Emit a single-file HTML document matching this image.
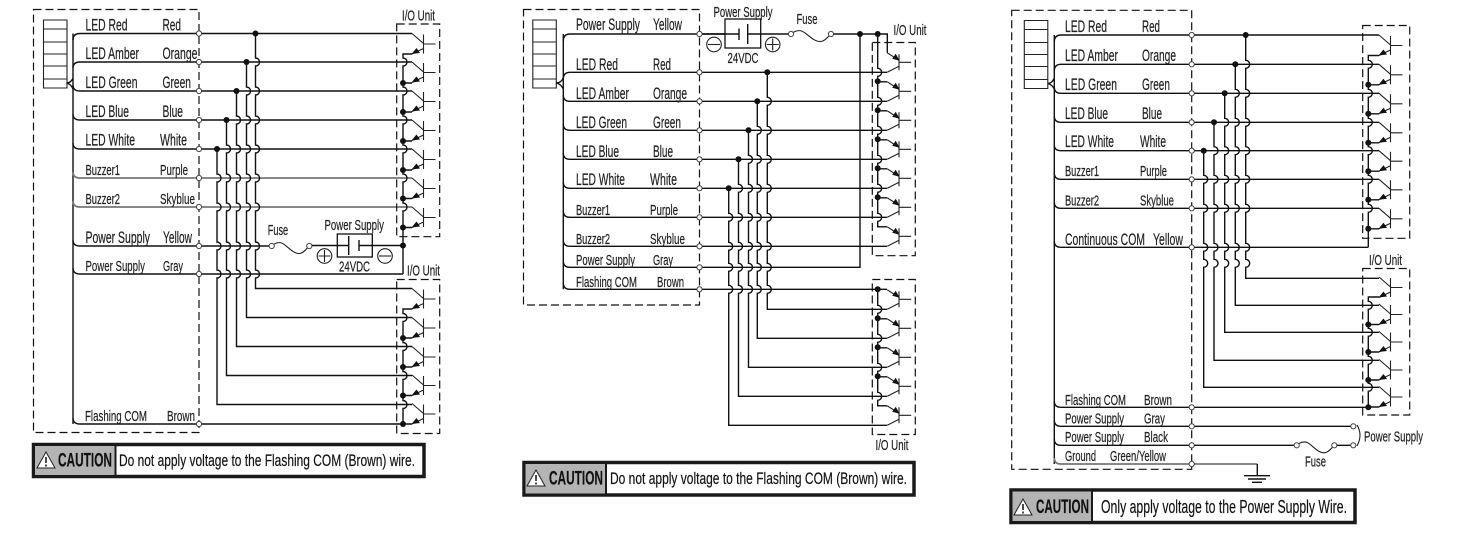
<!DOCTYPE html>
<html><head><meta charset="utf-8"><title>Wiring diagrams</title>
<style>
html,body{margin:0;padding:0;background:#fff;width:1474px;height:542px;overflow:hidden}
svg{display:block}
text{font-family:"Liberation Sans",sans-serif;fill:#222;font-size:16.5px;stroke:#222;stroke-width:.2}
.s{font-size:15px}
.c{font-size:19px;font-weight:bold;fill:#111}
.m{font-size:16.5px;fill:#111}
.w{fill:none;stroke:#111;stroke-width:1.4}
.g{fill:none;stroke:#777;stroke-width:1.8}
.t{fill:none;stroke:#222;stroke-width:1.1}
.d{fill:none;stroke:#111;stroke-width:1.2;stroke-dasharray:8 4}
.dot{fill:#111}
.term{fill:#fff;stroke:#444;stroke-width:1}
</style></head><body>
<svg width="1474" height="542" viewBox="0 0 1474 542" xmlns="http://www.w3.org/2000/svg">
<defs>
<g id="ta"><path class="t" d="M9 0L20.5 10M20.5 1V20M20.5 10.5H32.5M20.5 15L9 20.5"/><path class="dot" d="M8.500 20.500L13.500 14.500L17 19.500Z"/></g>
<g id="tb"><path class="t" d="M9.5 0L21.3 -6M21.3 -2V-18M21.3 -10H33.5M21.3 -12L9.5 -19.5"/><path class="dot" d="M22 -11.500L14.500 -13.500L18 -18.500Z"/></g>
<g id="fuse"><path class="t" d="M0 0C3 -3 7 -4 10 -3C15 -1 21 8 28 7.5C32 7 34.500 3 37.600 0"/></g>
<g id="stack"><path d="M0 0H23.500V68H0ZM0 9H23.500M0 22H23.500M0 34H23.500M0 46H23.500M0 59H23.500" fill="#fff" stroke="#222" stroke-width="1.100"/></g>
<g id="plus"><circle class="t" r="7.300" fill="none"/><path class="t" d="M-6 0H6M0 -6V6"/></g>
<g id="minus"><circle class="t" r="7.300" fill="none"/><path class="t" d="M-6 0H6"/></g>
<g id="warn"><path d="M0 16L9 0L18 16Z" fill="#fff" stroke="#222" stroke-width="1"/><path d="M9 5V11M9 12.500V14.500" stroke="#111" stroke-width="1.500"/></g>
</defs>

<!-- DIAGRAM 1 -->
<rect class="d" x="33.500" y="9.500" width="165.500" height="423"/>
<use href="#stack" x="43.500" y="20"/>
<path class="w" d="M66.500 83Q71 83 73 78M73 33.500V424"/>
<path class="w" d="M66.500 83Q71 84 73 89"/>
<path class="w" d="M73 40Q73 33.500 80 33.500H412M73 68Q73 62 80 62H412M73 85Q73 91 80 91H412M73 114Q73 120 80 120H412M73 143Q73 149 80 149H412M73 240Q73 246 80 246H272M73 268Q73 274 80 274H403M73 418Q73 424 80 424H403"/>
<path class="g" d="M73 172Q73 178 80 178H412M73 201Q73 207 80 207H412"/>
<path class="w" d="M255.500 33.500V58a4 4 0 0 1 0 8V87a4 4 0 0 1 0 8V116a4 4 0 0 1 0 8V145a4 4 0 0 1 0 8V174a4 4 0 0 1 0 8V203a4 4 0 0 1 0 8V242a4 4 0 0 1 0 8V270a4 4 0 0 1 0 8V288.500H412"/>
<path class="w" d="M246.500 62V87a4 4 0 0 1 0 8V116a4 4 0 0 1 0 8V145a4 4 0 0 1 0 8V174a4 4 0 0 1 0 8V203a4 4 0 0 1 0 8V242a4 4 0 0 1 0 8V270a4 4 0 0 1 0 8V317.500H412"/>
<path class="w" d="M236.500 91V116a4 4 0 0 1 0 8V145a4 4 0 0 1 0 8V174a4 4 0 0 1 0 8V203a4 4 0 0 1 0 8V242a4 4 0 0 1 0 8V270a4 4 0 0 1 0 8V346.500H412"/>
<path class="w" d="M226.500 120V145a4 4 0 0 1 0 8V174a4 4 0 0 1 0 8V203a4 4 0 0 1 0 8V242a4 4 0 0 1 0 8V270a4 4 0 0 1 0 8V375.500H412"/>
<path class="w" d="M217 149V174a4 4 0 0 1 0 8V203a4 4 0 0 1 0 8V242a4 4 0 0 1 0 8V270a4 4 0 0 1 0 8V404.500H412"/>
<path class="w" d="M412 54H403V58a4 4 0 0 1 0 8V87a4 4 0 0 1 0 8V116a4 4 0 0 1 0 8V145a4 4 0 0 1 0 8V174a4 4 0 0 1 0 8V203a4 4 0 0 1 0 8V274M412 83H403M412 112H403M412 141H403M412 170H403M412 198.500H403M412 227.500H403"/>
<path class="w" d="M412 309H403V313.500a4 4 0 0 1 0 8V342.500a4 4 0 0 1 0 8V371.500a4 4 0 0 1 0 8V400.500a4 4 0 0 1 0 8V424M412 338H403M412 367H403M412 395.500H403M412 424H403"/>
<rect class="d" x="396.700" y="24" width="43" height="212.700"/>
<rect class="d" x="396.700" y="279.500" width="43" height="154"/>
<use href="#ta" x="403" y="33.500"/><use href="#ta" x="403" y="62"/><use href="#ta" x="403" y="91"/><use href="#ta" x="403" y="120"/><use href="#ta" x="403" y="149"/><use href="#ta" x="403" y="178"/><use href="#ta" x="403" y="207"/>
<use href="#ta" x="403" y="288.500"/><use href="#ta" x="403" y="317.500"/><use href="#ta" x="403" y="346.500"/><use href="#ta" x="403" y="375"/><use href="#ta" x="403" y="403.500"/>
<use href="#fuse" x="271.700" y="246"/><g class="term"><circle cx="271.700" cy="246" r="2.600"/><circle cx="309.300" cy="246" r="2.600"/></g>
<rect x="337.300" y="234" width="35" height="23" fill="#fff" stroke="#111" stroke-width="1.300"/>
<path class="w" d="M312 245.500H348.700M348.700 236V255M359 240V251M359 245.500H403"/>
<use href="#plus" x="324.500" y="256"/><use href="#minus" x="385" y="256"/>
<g class="dot"><circle cx="255.500" cy="33.500" r="3"/><circle cx="246.500" cy="62" r="3"/><circle cx="236.500" cy="91" r="3"/><circle cx="226.500" cy="120" r="3"/><circle cx="217" cy="149" r="3"/><circle cx="403" cy="83" r="3"/><circle cx="403" cy="112" r="3"/><circle cx="403" cy="141" r="3"/><circle cx="403" cy="170" r="3"/><circle cx="403" cy="198.500" r="3"/><circle cx="403" cy="227.500" r="3"/><circle cx="403" cy="245.500" r="3"/><circle cx="403" cy="338" r="3"/><circle cx="403" cy="367" r="3"/><circle cx="403" cy="395.500" r="3"/><circle cx="403" cy="424" r="3"/></g>
<g class="term"><circle cx="199" cy="33.500" r="2.600"/><circle cx="199" cy="62" r="2.600"/><circle cx="199" cy="91" r="2.600"/><circle cx="199" cy="120" r="2.600"/><circle cx="199" cy="149" r="2.600"/><circle cx="199" cy="178" r="2.600"/><circle cx="199" cy="207" r="2.600"/><circle cx="199" cy="246" r="2.600"/><circle cx="199" cy="274" r="2.600"/><circle cx="199" cy="424" r="2.600"/></g>
<text x="85.500" y="30.500" textLength="42" lengthAdjust="spacingAndGlyphs">LED Red</text><text x="162.500" y="30.500" textLength="18.500" lengthAdjust="spacingAndGlyphs">Red</text>
<text x="85.500" y="59" textLength="53.500" lengthAdjust="spacingAndGlyphs">LED Amber</text><text x="162.500" y="59" textLength="35" lengthAdjust="spacingAndGlyphs">Orange</text>
<text x="85.500" y="88" textLength="52" lengthAdjust="spacingAndGlyphs">LED Green</text><text x="162.500" y="88" textLength="28.500" lengthAdjust="spacingAndGlyphs">Green</text>
<text x="85.500" y="117" textLength="43.500" lengthAdjust="spacingAndGlyphs">LED Blue</text><text x="162.500" y="117" textLength="20.500" lengthAdjust="spacingAndGlyphs">Blue</text>
<text x="85.500" y="145.500" textLength="49.500" lengthAdjust="spacingAndGlyphs">LED White</text><text x="160" y="145.500" textLength="27" lengthAdjust="spacingAndGlyphs">White</text>
<text class="s" x="85.500" y="175" textLength="34.500" lengthAdjust="spacingAndGlyphs">Buzzer1</text><text class="s" x="160" y="175" textLength="28" lengthAdjust="spacingAndGlyphs">Purple</text>
<text class="s" x="85.500" y="204" textLength="34.500" lengthAdjust="spacingAndGlyphs">Buzzer2</text><text class="s" x="160" y="204" textLength="35" lengthAdjust="spacingAndGlyphs">Skyblue</text>
<text x="85.500" y="243" textLength="64.500" lengthAdjust="spacingAndGlyphs">Power Supply</text><text x="163" y="243" textLength="29" lengthAdjust="spacingAndGlyphs">Yellow</text>
<text class="s" x="85.500" y="271" textLength="59.500" lengthAdjust="spacingAndGlyphs">Power Supply</text><text class="s" x="163" y="271" textLength="20" lengthAdjust="spacingAndGlyphs">Gray</text>
<text class="s" x="85" y="421" textLength="62" lengthAdjust="spacingAndGlyphs">Flashing COM</text><text class="s" x="167" y="421" textLength="28" lengthAdjust="spacingAndGlyphs">Brown</text>
<text class="s" x="402" y="20.500" textLength="33" lengthAdjust="spacingAndGlyphs">I/O Unit</text>
<text class="s" x="407" y="275.500" textLength="33" lengthAdjust="spacingAndGlyphs">I/O Unit</text>
<text class="s" x="267.700" y="235" textLength="20.500" lengthAdjust="spacingAndGlyphs">Fuse</text>
<text class="s" x="324.500" y="230" textLength="59.500" lengthAdjust="spacingAndGlyphs">Power Supply</text>
<text class="s" x="339" y="271.500" textLength="31" lengthAdjust="spacingAndGlyphs">24VDC</text>
<rect x="33.500" y="444.500" width="390.500" height="32" fill="#fff" stroke="#1a1a1a" stroke-width="3.500"/>
<rect x="35" y="446" width="80" height="29" fill="#b4b4b4"/><path d="M115.500 445V476" stroke="#1a1a1a" stroke-width="2"/>
<use href="#warn" x="37" y="452"/>
<text class="c" x="58" y="466.500" textLength="54" lengthAdjust="spacingAndGlyphs">CAUTION</text>
<text class="m" x="119" y="466" textLength="296" lengthAdjust="spacingAndGlyphs">Do not apply voltage to the Flashing COM (Brown) wire.</text>

<!-- DIAGRAM 2 -->
<rect class="d" x="523.500" y="9.500" width="176" height="295.500"/>
<use href="#stack" x="532.800" y="20"/>
<path class="w" d="M556.300 83Q561 83 563.300 78M563.300 34V289.300"/>
<path class="w" d="M556.300 83Q561 84 563.300 89"/>
<path class="w" d="M563.300 41Q563.300 34 570 34H739M563.300 79Q563.300 72.300 570 72.300H887M563.300 95Q563.300 101.300 570 101.300H887M563.300 124Q563.300 130.300 570 130.300H887M563.300 153Q563.300 159.300 570 159.300H887M563.300 182Q563.300 188.300 570 188.300H887M563.300 211Q563.300 217.300 570 217.300H887M563.300 240Q563.300 246.300 570 246.300H887M563.300 261Q563.300 267.300 570 267.300H860V34M563.300 283Q563.300 289.300 570 289.300H887"/>
<path class="w" d="M767.300 72.300V97.300a4 4 0 0 1 0 8V126.300a4 4 0 0 1 0 8V155.300a4 4 0 0 1 0 8V184.300a4 4 0 0 1 0 8V213.300a4 4 0 0 1 0 8V242.300a4 4 0 0 1 0 8V263.300a4 4 0 0 1 0 8V285.300a4 4 0 0 1 0 8V309.300H887"/>
<path class="w" d="M757.300 101.300V126.300a4 4 0 0 1 0 8V155.300a4 4 0 0 1 0 8V184.300a4 4 0 0 1 0 8V213.300a4 4 0 0 1 0 8V242.300a4 4 0 0 1 0 8V263.300a4 4 0 0 1 0 8V285.300a4 4 0 0 1 0 8V338.300H887"/>
<path class="w" d="M748.500 130.300V155.300a4 4 0 0 1 0 8V184.300a4 4 0 0 1 0 8V213.300a4 4 0 0 1 0 8V242.300a4 4 0 0 1 0 8V263.300a4 4 0 0 1 0 8V285.300a4 4 0 0 1 0 8V367.300H887"/>
<path class="w" d="M738.500 159.300V184.300a4 4 0 0 1 0 8V213.300a4 4 0 0 1 0 8V242.300a4 4 0 0 1 0 8V263.300a4 4 0 0 1 0 8V285.300a4 4 0 0 1 0 8V396.300H887"/>
<path class="w" d="M728.700 188.300V213.300a4 4 0 0 1 0 8V242.300a4 4 0 0 1 0 8V263.300a4 4 0 0 1 0 8V285.300a4 4 0 0 1 0 8V425.300H887"/>
<path class="w" d="M831 34H887.300V52.800M877.700 34V68.300a4 4 0 0 1 0 8V97.300a4 4 0 0 1 0 8V126.300a4 4 0 0 1 0 8V155.300a4 4 0 0 1 0 8V184.300a4 4 0 0 1 0 8V213.300a4 4 0 0 1 0 8V226.800H887.200M877.700 81.800H887.200M877.700 110.800H887.200M877.700 139.800H887.200M877.700 168.800H887.200M877.700 197.800H887.200"/>
<path class="w" d="M877.700 289.300V305.300a4 4 0 0 1 0 8V334.300a4 4 0 0 1 0 8V363.300a4 4 0 0 1 0 8V392.300a4 4 0 0 1 0 8V405.800H887.200M877.700 318.800H887.200M877.700 347.800H887.200M877.700 376.800H887.200"/>
<rect class="d" x="872.300" y="42.500" width="43" height="213.200"/>
<rect class="d" x="872.300" y="279.500" width="43" height="155"/>
<use href="#tb" x="877.700" y="72.300"/><use href="#tb" x="877.700" y="101.300"/><use href="#tb" x="877.700" y="130.300"/><use href="#tb" x="877.700" y="159.300"/><use href="#tb" x="877.700" y="188.300"/><use href="#tb" x="877.700" y="217.300"/><use href="#tb" x="877.700" y="246.300"/>
<use href="#tb" x="877.700" y="309.300"/><use href="#tb" x="877.700" y="338.300"/><use href="#tb" x="877.700" y="367.300"/><use href="#tb" x="877.700" y="396.300"/><use href="#tb" x="877.700" y="425.300"/>
<rect x="725" y="19" width="35.700" height="29" fill="#fff" stroke="#111" stroke-width="1.300"/>
<path class="w" d="M699.500 34H739M739 28.500V40M747.700 24V44M747.700 34H791"/>
<g transform="translate(791 34) scale(1.064 1)"><use href="#fuse"/></g>
<g class="term"><circle cx="791" cy="34" r="2.600"/><circle cx="831" cy="34" r="2.600"/></g>
<use href="#minus" x="714" y="44.500"/><use href="#plus" x="772.700" y="44.500"/>
<g class="dot"><circle cx="767.300" cy="72.300" r="3"/><circle cx="757.300" cy="101.300" r="3"/><circle cx="748.500" cy="130.300" r="3"/><circle cx="738.500" cy="159.300" r="3"/><circle cx="728.700" cy="188.300" r="3"/><circle cx="860" cy="34" r="3"/><circle cx="877.700" cy="34" r="3"/><circle cx="877.700" cy="81.300" r="3"/><circle cx="877.700" cy="110.300" r="3"/><circle cx="877.700" cy="139.300" r="3"/><circle cx="877.700" cy="168.300" r="3"/><circle cx="877.700" cy="197.300" r="3"/><circle cx="877.700" cy="289.300" r="3"/><circle cx="877.700" cy="318.300" r="3"/><circle cx="877.700" cy="347.300" r="3"/><circle cx="877.700" cy="376.300" r="3"/></g>
<g class="term"><circle cx="699.500" cy="34" r="2.600"/><circle cx="699.500" cy="72.300" r="2.600"/><circle cx="699.500" cy="101.300" r="2.600"/><circle cx="699.500" cy="130.300" r="2.600"/><circle cx="699.500" cy="159.300" r="2.600"/><circle cx="699.500" cy="188.300" r="2.600"/><circle cx="699.500" cy="217.300" r="2.600"/><circle cx="699.500" cy="246.300" r="2.600"/><circle cx="699.500" cy="267.300" r="2.600"/><circle cx="699.500" cy="289.300" r="2.600"/></g>
<text x="576" y="30" textLength="64" lengthAdjust="spacingAndGlyphs">Power Supply</text><text x="653" y="30" textLength="29" lengthAdjust="spacingAndGlyphs">Yellow</text>
<text x="576" y="70" textLength="42" lengthAdjust="spacingAndGlyphs">LED Red</text><text x="653" y="70" textLength="18" lengthAdjust="spacingAndGlyphs">Red</text>
<text x="576" y="99" textLength="53" lengthAdjust="spacingAndGlyphs">LED Amber</text><text x="653" y="99" textLength="34" lengthAdjust="spacingAndGlyphs">Orange</text>
<text x="576" y="128" textLength="51" lengthAdjust="spacingAndGlyphs">LED Green</text><text x="653" y="128" textLength="28" lengthAdjust="spacingAndGlyphs">Green</text>
<text x="576" y="157" textLength="43" lengthAdjust="spacingAndGlyphs">LED Blue</text><text x="653" y="157" textLength="20" lengthAdjust="spacingAndGlyphs">Blue</text>
<text x="576" y="185" textLength="49" lengthAdjust="spacingAndGlyphs">LED White</text><text x="650" y="185" textLength="27" lengthAdjust="spacingAndGlyphs">White</text>
<text class="s" x="576" y="215" textLength="34" lengthAdjust="spacingAndGlyphs">Buzzer1</text><text class="s" x="650" y="215" textLength="28" lengthAdjust="spacingAndGlyphs">Purple</text>
<text class="s" x="576" y="244" textLength="34" lengthAdjust="spacingAndGlyphs">Buzzer2</text><text class="s" x="650" y="244" textLength="35" lengthAdjust="spacingAndGlyphs">Skyblue</text>
<text class="s" x="576" y="265" textLength="59" lengthAdjust="spacingAndGlyphs">Power Supply</text><text class="s" x="653" y="265" textLength="20" lengthAdjust="spacingAndGlyphs">Gray</text>
<text class="s" x="576" y="287" textLength="61" lengthAdjust="spacingAndGlyphs">Flashing COM</text><text class="s" x="657" y="287" textLength="27" lengthAdjust="spacingAndGlyphs">Brown</text>
<text class="s" x="713.500" y="17" textLength="59" lengthAdjust="spacingAndGlyphs">Power Supply</text>
<text class="s" x="727.500" y="63" textLength="31" lengthAdjust="spacingAndGlyphs">24VDC</text>
<text class="s" x="796.500" y="24" textLength="21" lengthAdjust="spacingAndGlyphs">Fuse</text>
<text class="s" x="893.500" y="35" textLength="33" lengthAdjust="spacingAndGlyphs">I/O Unit</text>
<text class="s" x="875.500" y="450" textLength="33" lengthAdjust="spacingAndGlyphs">I/O Unit</text>
<rect x="524" y="462.500" width="390" height="32.500" fill="#fff" stroke="#1a1a1a" stroke-width="3.500"/>
<rect x="525.500" y="464" width="80" height="29.500" fill="#b4b4b4"/><path d="M606 463V494" stroke="#1a1a1a" stroke-width="2"/>
<use href="#warn" x="527" y="470"/>
<text class="c" x="549" y="484.500" textLength="54" lengthAdjust="spacingAndGlyphs">CAUTION</text>
<text class="m" x="610" y="484" textLength="297" lengthAdjust="spacingAndGlyphs">Do not apply voltage to the Flashing COM (Brown) wire.</text>

<!-- DIAGRAM 3 -->
<rect class="d" x="1011.700" y="10.300" width="180" height="459"/>
<use href="#stack" x="1024.300" y="20.500"/>
<path class="w" d="M1047.800 83.500Q1052 83.500 1054.300 78M1054.300 35V464"/>
<path class="w" d="M1047.800 83.500Q1052 84.500 1054.300 89"/>
<path class="w" d="M1054.300 42Q1054.300 35 1061 35H1379M1054.300 71Q1054.300 64.300 1061 64.300H1379M1054.300 87Q1054.300 93.300 1061 93.300H1379M1054.300 116Q1054.300 122.300 1061 122.300H1379M1054.300 145Q1054.300 150.700 1061 150.700H1379M1054.300 173Q1054.300 179.300 1061 179.300H1379M1054.300 202Q1054.300 208.300 1061 208.300H1379M1054.300 241Q1054.300 247.300 1061 247.300H1368.300M1054.300 401Q1054.300 407.300 1061 407.300H1368.300M1054.300 420Q1054.300 426.300 1061 426.300H1353.300M1054.300 439Q1054.300 445.300 1061 445.300H1296.700"/>
<path class="g" d="M1054.300 458Q1054.300 464 1061 464H1257.300"/>
<path class="w" d="M1257.300 464V475.700M1244 475.700H1270M1248 479H1266M1252 482.300H1262"/>
<path class="w" d="M1245.700 35V60.300a4 4 0 0 1 0 8V89.300a4 4 0 0 1 0 8V118.300a4 4 0 0 1 0 8V146.700a4 4 0 0 1 0 8V175.300a4 4 0 0 1 0 8V204.300a4 4 0 0 1 0 8V243.300a4 4 0 0 1 0 8V259.300a4 4 0 0 1 0 8V278.300H1379"/>
<path class="w" d="M1235.300 64.300V89.300a4 4 0 0 1 0 8V118.300a4 4 0 0 1 0 8V146.700a4 4 0 0 1 0 8V175.300a4 4 0 0 1 0 8V204.300a4 4 0 0 1 0 8V243.300a4 4 0 0 1 0 8V259.300a4 4 0 0 1 0 8V305.300H1379"/>
<path class="w" d="M1224.700 93.300V118.300a4 4 0 0 1 0 8V146.700a4 4 0 0 1 0 8V175.300a4 4 0 0 1 0 8V204.300a4 4 0 0 1 0 8V243.300a4 4 0 0 1 0 8V259.300a4 4 0 0 1 0 8V332.300H1379"/>
<path class="w" d="M1214 122.300V146.700a4 4 0 0 1 0 8V175.300a4 4 0 0 1 0 8V204.300a4 4 0 0 1 0 8V243.300a4 4 0 0 1 0 8V259.300a4 4 0 0 1 0 8V360.300H1379"/>
<path class="w" d="M1203.700 150.700V175.300a4 4 0 0 1 0 8V204.300a4 4 0 0 1 0 8V243.300a4 4 0 0 1 0 8V259.300a4 4 0 0 1 0 8V387.300H1379"/>
<path class="w" d="M1379 55.500H1368.300V60.300a4 4 0 0 1 0 8V89.300a4 4 0 0 1 0 8V118.300a4 4 0 0 1 0 8V146.700a4 4 0 0 1 0 8V175.300a4 4 0 0 1 0 8V204.300a4 4 0 0 1 0 8V247.300M1379 84.800H1368.300M1379 113.800H1368.300M1379 142.800H1368.300M1379 171.200H1368.300M1379 199.800H1368.300M1379 228.800H1368.300"/>
<path class="w" d="M1379 297H1368.300V301.300a4 4 0 0 1 0 8V328.300a4 4 0 0 1 0 8V356.300a4 4 0 0 1 0 8V383.300a4 4 0 0 1 0 8V407.300M1379 324.500H1368.300M1379 352H1368.300M1379 380H1368.300M1379 407H1368.300"/>
<rect class="d" x="1362.700" y="25.500" width="47" height="212.800"/>
<rect class="d" x="1362.700" y="268.500" width="47" height="146.500"/>
<g transform="translate(1.700 0)"><use href="#ta" x="1368.300" y="35"/><use href="#ta" x="1368.300" y="64.300"/><use href="#ta" x="1368.300" y="93.300"/><use href="#ta" x="1368.300" y="122.300"/><use href="#ta" x="1368.300" y="150.700"/><use href="#ta" x="1368.300" y="179.300"/><use href="#ta" x="1368.300" y="208.300"/><use href="#ta" x="1368.300" y="277"/><use href="#ta" x="1368.300" y="304"/><use href="#ta" x="1368.300" y="331.500"/><use href="#ta" x="1368.300" y="359.500"/><use href="#ta" x="1368.300" y="386.500"/></g>
<use href="#fuse" x="1296.700" y="445.300"/><g class="term"><circle cx="1296.700" cy="445.300" r="2.600"/><circle cx="1334.300" cy="445.300" r="2.600"/></g>
<path class="w" d="M1337 445.300H1353.300"/>
<path class="t" d="M1357 425Q1363 435 1357 446"/>
<g class="dot"><circle cx="1245.700" cy="35" r="3"/><circle cx="1235.300" cy="64.300" r="3"/><circle cx="1224.700" cy="93.300" r="3"/><circle cx="1214" cy="122.300" r="3"/><circle cx="1203.700" cy="150.700" r="3"/><circle cx="1368.300" cy="84.800" r="3"/><circle cx="1368.300" cy="113.800" r="3"/><circle cx="1368.300" cy="142.800" r="3"/><circle cx="1368.300" cy="171.200" r="3"/><circle cx="1368.300" cy="199.800" r="3"/><circle cx="1368.300" cy="228.800" r="3"/><circle cx="1368.300" cy="324.500" r="3"/><circle cx="1368.300" cy="352" r="3"/><circle cx="1368.300" cy="380" r="3"/><circle cx="1368.300" cy="407.300" r="3"/></g>
<g class="term"><circle cx="1191.700" cy="35" r="2.600"/><circle cx="1191.700" cy="64.300" r="2.600"/><circle cx="1191.700" cy="93.300" r="2.600"/><circle cx="1191.700" cy="122.300" r="2.600"/><circle cx="1191.700" cy="150.700" r="2.600"/><circle cx="1191.700" cy="179.300" r="2.600"/><circle cx="1191.700" cy="208.300" r="2.600"/><circle cx="1191.700" cy="247.300" r="2.600"/><circle cx="1191.700" cy="407.300" r="2.600"/><circle cx="1191.700" cy="426.300" r="2.600"/><circle cx="1191.700" cy="445.300" r="2.600"/><circle cx="1191.700" cy="464" r="2.600"/><circle cx="1353.300" cy="426.300" r="2.600"/><circle cx="1353.300" cy="445.300" r="2.600"/></g>
<text x="1065" y="32" textLength="42" lengthAdjust="spacingAndGlyphs">LED Red</text><text x="1142" y="32" textLength="18" lengthAdjust="spacingAndGlyphs">Red</text>
<text x="1065" y="61" textLength="53" lengthAdjust="spacingAndGlyphs">LED Amber</text><text x="1142" y="61" textLength="34" lengthAdjust="spacingAndGlyphs">Orange</text>
<text x="1065" y="90" textLength="52" lengthAdjust="spacingAndGlyphs">LED Green</text><text x="1142" y="90" textLength="28" lengthAdjust="spacingAndGlyphs">Green</text>
<text x="1065" y="119" textLength="43" lengthAdjust="spacingAndGlyphs">LED Blue</text><text x="1142" y="119" textLength="20" lengthAdjust="spacingAndGlyphs">Blue</text>
<text x="1065" y="147" textLength="49" lengthAdjust="spacingAndGlyphs">LED White</text><text x="1140" y="147" textLength="26" lengthAdjust="spacingAndGlyphs">White</text>
<text class="s" x="1065" y="176" textLength="34" lengthAdjust="spacingAndGlyphs">Buzzer1</text><text class="s" x="1140" y="176" textLength="27" lengthAdjust="spacingAndGlyphs">Purple</text>
<text class="s" x="1065" y="205.500" textLength="34" lengthAdjust="spacingAndGlyphs">Buzzer2</text><text class="s" x="1140" y="205.500" textLength="34" lengthAdjust="spacingAndGlyphs">Skyblue</text>
<text x="1065" y="245" textLength="80" lengthAdjust="spacingAndGlyphs">Continuous COM</text><text x="1153" y="245" textLength="30" lengthAdjust="spacingAndGlyphs">Yellow</text>
<text class="s" x="1065" y="405" textLength="61" lengthAdjust="spacingAndGlyphs">Flashing COM</text><text class="s" x="1144" y="405" textLength="28" lengthAdjust="spacingAndGlyphs">Brown</text>
<text class="s" x="1065" y="423.300" textLength="59" lengthAdjust="spacingAndGlyphs">Power Supply</text><text class="s" x="1144" y="423.300" textLength="21" lengthAdjust="spacingAndGlyphs">Gray</text>
<text class="s" x="1065" y="442" textLength="59" lengthAdjust="spacingAndGlyphs">Power Supply</text><text class="s" x="1144" y="442" textLength="24" lengthAdjust="spacingAndGlyphs">Black</text>
<text class="s" x="1065" y="461" textLength="31" lengthAdjust="spacingAndGlyphs">Ground</text><text class="s" x="1110" y="461" textLength="56" lengthAdjust="spacingAndGlyphs">Green/Yellow</text>
<text class="s" x="1369" y="265" textLength="33" lengthAdjust="spacingAndGlyphs">I/O Unit</text>
<text class="s" x="1364" y="441.700" textLength="59" lengthAdjust="spacingAndGlyphs">Power Supply</text>
<text class="s" x="1305" y="466.700" textLength="21" lengthAdjust="spacingAndGlyphs">Fuse</text>
<rect x="1011" y="490" width="344" height="32.500" fill="#fff" stroke="#1a1a1a" stroke-width="3.500"/>
<rect x="1012.500" y="491.500" width="79" height="29.500" fill="#b4b4b4"/><path d="M1092 491V522" stroke="#1a1a1a" stroke-width="2"/>
<use href="#warn" x="1014" y="499"/>
<text class="c" x="1036" y="513" textLength="53" lengthAdjust="spacingAndGlyphs">CAUTION</text>
<text x="1101" y="513" textLength="246" lengthAdjust="spacingAndGlyphs" style="font-size:18px;fill:#111">Only apply voltage to the Power Supply Wire.</text>
</svg>
</body></html>
